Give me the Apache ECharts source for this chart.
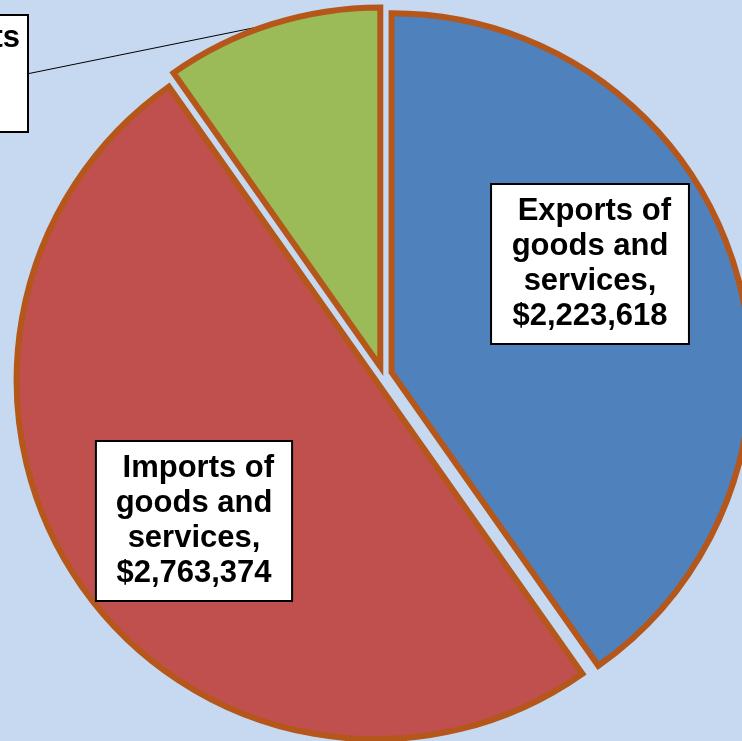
<!DOCTYPE html>
<html>
<head>
<meta charset="utf-8">
<script src="https://cdn.jsdelivr.net/npm/echarts@6/dist/echarts.min.js"></script>
<style>
html,body{margin:0;padding:0;background:#C6D9F1;}
#chart{width:742px;height:741px;}
</style>
</head>
<body>
<div id="chart"></div>
<script>
// ---- data ----
const categories = ['Exports of goods and services', 'Imports of goods and services', 'Income payments'];
const values = [2223618, 2763374, 539756];
const labelLines = [
  [' Exports of', 'goods and', 'services,'],
  [' Imports of', 'goods and', 'services,'],
  [' Income payments', 'and transfers,']
];
const colors = ['#4F81BD', '#C0504D', '#9BBB59'];

// ---- layout / style ----
const borderColor = '#B5561A';
const pieCenter = [383, 375];
const pieRadius = 359;
const explode = 9;
const fontFamily = '"Liberation Sans", Arial, sans-serif';
const fontSize = 31;
const labelPadding = [[9, 17], [9, 17], [5, 7]];
// x/y: box centre for the first two; for the third, right edge / top edge of the box
const labelPlacement = [
  {x: 590, y: 264, anchor: 'center'},
  {x: 194, y: 521, anchor: 'center'},
  {x: 27, y: 16, anchor: 'rightTop'}
];

function fmt(v){ return '$' + v.toLocaleString('en-US'); }
function labelText(i){ return labelLines[i].concat([fmt(values[i])]); }

const measureCtx = document.createElement('canvas').getContext('2d');
measureCtx.font = 'bold ' + fontSize + 'px ' + fontFamily;
function boxWidth(i){
  const w = Math.max.apply(null, labelText(i).map(t => measureCtx.measureText(t).width));
  return w + 2 * labelPadding[i][1];
}

const total = values.reduce((a, b) => a + b, 0);
const midAngles = [];
(function(){
  let acc = 0;
  values.forEach(v => {
    const a0 = acc / total * 2 * Math.PI;
    acc += v;
    const a1 = acc / total * 2 * Math.PI;
    midAngles.push((a0 + a1) / 2);
  });
})();

function buildSeries(owner) {
  const data = categories.map((name, i) => {
    if (i !== owner) {
      return {
        name: name, value: values[i],
        itemStyle: {opacity: 0},
        label: {show: false},
        labelLine: {show: false}
      };
    }
    const item = {
      name: name,
      value: values[i],
      itemStyle: {color: colors[i]},
      label: {
        show: true,
        position: i === 2 ? 'outside' : 'inside',
        formatter: labelText(i).join('\n'),
        color: '#000',
        fontFamily: fontFamily,
        fontWeight: 'bold',
        fontSize: fontSize,
        lineHeight: 35,
        align: 'center',
        backgroundColor: '#FFFFFF',
        borderColor: '#000000',
        borderWidth: 2,
        padding: labelPadding[i]
      },
      labelLine: i === 2
        ? {show: true, length: 10, length2: 0, smooth: false, lineStyle: {color: '#000', width: 1}}
        : {show: false}
    };
    return item;
  });
  const m = midAngles[owner];
  return {
    type: 'pie',
    name: categories[owner],
    center: [pieCenter[0] + explode * Math.sin(m), pieCenter[1] - explode * Math.cos(m)],
    radius: pieRadius,
    startAngle: 90,
    clockwise: true,
    avoidLabelOverlap: false,
    silent: true,
    itemStyle: {borderColor: borderColor, borderWidth: 6, borderJoin: 'miter'},
    emphasis: {disabled: true, scale: false},
    labelLayout: function (p) {
      const lp = labelPlacement[p.dataIndex];
      if (lp.anchor === 'rightTop') {
        return {x: lp.x - boxWidth(p.dataIndex) / 2, y: lp.y, align: 'center', verticalAlign: 'top'};
      }
      return {x: lp.x, y: lp.y, align: 'center', verticalAlign: 'middle'};
    },
    data: data
  };
}

const chart = echarts.init(document.getElementById('chart'), null, {renderer: 'canvas'});
chart.setOption({
  backgroundColor: '#C6D9F1',
  animation: false,
  series: [buildSeries(0), buildSeries(1), buildSeries(2)]
});
</script>
</body>
</html>
